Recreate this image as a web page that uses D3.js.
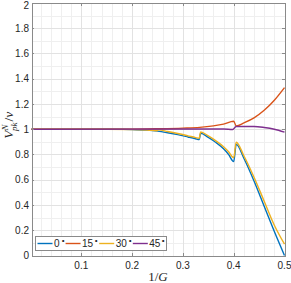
<!DOCTYPE html>
<html>
<head>
<meta charset="utf-8">
<script src="https://cdn.jsdelivr.net/npm/d3@7"></script>
<style>
  body { margin: 0; background: #fff; }
  svg { display: block; font-family: "Liberation Sans", Arial, sans-serif; }
</style>
</head>
<body>
<svg id="chart" width="291" height="283"></svg>
<script>
// tick labels
var xTicks = [0.1, 0.2, 0.3, 0.4, 0.5];
var yTicks = [0, 0.2, 0.4, 0.6, 0.8, 1, 1.2, 1.4, 1.6, 1.8, 2];

// series (1/G vs normalised peak)
var angles = ["0", "15", "30", "45"];

var x00 = [0.002, 0.15, 0.18, 0.2, 0.23, 0.25, 0.27, 0.29, 0.31, 0.325, 0.332, 0.335, 0.35, 0.365, 0.38, 0.39, 0.4, 0.405, 0.42, 0.44, 0.46, 0.48, 0.5];
var v00 = [1, 1, 0.999, 0.997, 0.993, 0.985, 0.972, 0.957, 0.939, 0.925, 0.918, 0.968, 0.935, 0.895, 0.845, 0.80, 0.744, 0.88, 0.77, 0.59, 0.39, 0.19, 0.0];

var x15 = [0.002, 0.2, 0.25, 0.3, 0.333, 0.36, 0.38, 0.4, 0.405, 0.42, 0.44, 0.46, 0.48, 0.5];
var v15 = [1, 1.001, 1.004, 1.009, 1.015, 1.027, 1.041, 1.063, 1.026, 1.05, 1.09, 1.15, 1.23, 1.33];

var x30 = [0.002, 0.15, 0.2, 0.23, 0.249, 0.252, 0.27, 0.29, 0.31, 0.325, 0.332, 0.335, 0.35, 0.365, 0.38, 0.39, 0.4, 0.405, 0.42, 0.44, 0.46, 0.48, 0.5];
var v30 = [1, 1, 0.998, 0.994, 0.988, 0.995, 0.982, 0.966, 0.948, 0.934, 0.928, 0.978, 0.947, 0.908, 0.862, 0.822, 0.775, 0.897, 0.79, 0.62, 0.43, 0.24, 0.09];

var x45 = [0.002, 0.38, 0.398, 0.405, 0.44, 0.46, 0.48, 0.5];
var v45 = [1, 1.002, 0.998, 1.022, 1.022, 1.014, 1.0, 0.977];

var colors = ["#0072BD", "#D95319", "#EDB120", "#7E2F8E"];

var margin = { top: 3, right: 6.5, bottom: 27.5, left: 31.5 };
var width = 291 - margin.left - margin.right,
    height = 283 - margin.top - margin.bottom;

var svg = d3.select("#chart");

var x = d3.scaleLinear().domain([0.002, 0.5]).range([margin.left, margin.left + width]);
var y = d3.scaleLinear().domain([0, 2]).range([margin.top + height, margin.top]);

var grid = svg.append("g").attr("shape-rendering", "crispEdges");

// minor grid
grid.selectAll(".xminor")
    .data(d3.range(0.02, 0.5, 0.02).filter(function (d) { return Math.abs(d * 10 - Math.round(d * 10)) > 1e-6; }))
    .enter().append("line")
    .attr("x1", function (d) { return Math.round(x(d)) + 0.5; })
    .attr("x2", function (d) { return Math.round(x(d)) + 0.5; })
    .attr("y1", y(0)).attr("y2", y(2))
    .attr("stroke", "#efefef");
grid.selectAll(".yminor")
    .data(d3.range(0.1, 2, 0.2))
    .enter().append("line")
    .attr("x1", x.range()[0]).attr("x2", x.range()[1])
    .attr("y1", function (d) { return Math.round(y(d)) + 0.5; })
    .attr("y2", function (d) { return Math.round(y(d)) + 0.5; })
    .attr("stroke", "#efefef");

// major grid
grid.selectAll(".xmajor")
    .data(xTicks)
    .enter().append("line")
    .attr("x1", function (d) { return Math.round(x(d)) + 0.5; })
    .attr("x2", function (d) { return Math.round(x(d)) + 0.5; })
    .attr("y1", y(0)).attr("y2", y(2))
    .attr("stroke", "#e2e2e2");
grid.selectAll(".ymajor")
    .data(yTicks)
    .enter().append("line")
    .attr("x1", x.range()[0]).attr("x2", x.range()[1])
    .attr("y1", function (d) { return Math.round(y(d)) + 0.5; })
    .attr("y2", function (d) { return Math.round(y(d)) + 0.5; })
    .attr("stroke", "#e2e2e2");

// lines
var line = d3.line()
    .curve(d3.curveMonotoneX)
    .x(function (d) { return x(d[0]); })
    .y(function (d) { return y(d[1]); });

var allX = [x00, x15, x30, x45];
var allV = [v00, v15, v30, v45];

allX.forEach(function (xs, i) {
    var pts = xs.map(function (d, j) { return [d, allV[i][j]]; });
    svg.append("path")
        .datum(pts)
        .attr("fill", "none")
        .attr("stroke", colors[i])
        .attr("stroke-width", 1.4)
        .attr("stroke-linejoin", "miter")
        .attr("d", line);
});

// axes box and inward ticks
var axisColor = "#8a8a8a";
var frame = svg.append("g").attr("shape-rendering", "crispEdges");
frame.append("rect")
    .attr("x", x.range()[0] + 0.5).attr("y", margin.top + 0.5)
    .attr("width", width).attr("height", height)
    .attr("fill", "none").attr("stroke", axisColor);

xTicks.forEach(function (d) {
    var px = Math.round(x(d)) + 0.5;
    frame.append("line").attr("x1", px).attr("x2", px)
        .attr("y1", y(0)).attr("y2", y(0) - 2.5).attr("stroke", axisColor);
    frame.append("line").attr("x1", px).attr("x2", px)
        .attr("y1", y(2)).attr("y2", y(2) + 3).attr("stroke", axisColor);
});
yTicks.forEach(function (d) {
    var py = Math.round(y(d)) + 0.5;
    frame.append("line").attr("x1", x.range()[0]).attr("x2", x.range()[0] + 2.5)
        .attr("y1", py).attr("y2", py).attr("stroke", axisColor);
    frame.append("line").attr("x1", x.range()[1]).attr("x2", x.range()[1] - 2.5)
        .attr("y1", py).attr("y2", py).attr("stroke", axisColor);
});

// tick labels
svg.append("g").selectAll("text")
    .data(xTicks).enter().append("text")
    .attr("x", function (d) { return x(d); })
    .attr("y", 268.5)
    .attr("text-anchor", "middle")
    .attr("font-size", 10)
    .attr("fill", "#262626")
    .text(function (d) { return d; });

svg.append("g").selectAll("text")
    .data(yTicks).enter().append("text")
    .attr("x", 29)
    .attr("y", function (d) { return Math.max(y(d) + 3.5, 8.5); })
    .attr("text-anchor", "end")
    .attr("font-size", 10)
    .attr("fill", "#262626")
    .text(function (d) { return d; });

// axis labels
var xl = svg.append("text")
    .attr("x", (x.range()[0] + x.range()[1]) / 2)
    .attr("y", 281)
    .attr("text-anchor", "middle")
    .attr("font-family", "'Liberation Serif', serif")
    .attr("font-size", 13)
    .attr("fill", "#262626");
xl.append("tspan").text("1/");
xl.append("tspan").attr("font-style", "italic").text("G");

var yl = svg.append("text")
    .attr("transform", "translate(13," + (y(1) - 4) + ") rotate(-90)")
    .attr("text-anchor", "middle")
    .attr("font-family", "'Liberation Serif', serif")
    .attr("font-size", 13.5)
    .attr("fill", "#262626");
yl.append("tspan").attr("font-style", "italic").text("V");
yl.append("tspan").attr("font-style", "italic").attr("font-size", 9).attr("dy", -5).text("N");
yl.append("tspan").attr("font-style", "italic").attr("font-size", 9).attr("dx", -6.5).attr("dy", 9).text("pk");
yl.append("tspan").attr("dx", 1).attr("dy", -4).text("/");
yl.append("tspan").attr("font-style", "italic").text("v");

// legend
var legend = svg.append("g");
var box = legend.append("rect")
    .attr("x", 35.5).attr("y", 236.5)
    .attr("height", 14)
    .attr("fill", "#fff")
    .attr("stroke", axisColor)
    .attr("shape-rendering", "crispEdges");

var cx = 37.5;
angles.forEach(function (a, i) {
    legend.append("line")
        .attr("x1", cx).attr("x2", cx + 15)
        .attr("y1", 243.5).attr("y2", 243.5)
        .attr("stroke", colors[i]).attr("stroke-width", 1.4);
    var t = legend.append("text")
        .attr("x", cx + 16.5).attr("y", 247)
        .attr("font-size", 10)
        .attr("fill", "#262626");
    t.append("tspan").text(a);
    t.append("tspan").attr("font-size", 7).attr("dx", 1).attr("dy", -4).text("\u2218");
    cx += 16.5 + t.node().getComputedTextLength() + 2;
});
box.attr("width", cx - 35.5);
</script>
</body>
</html>
